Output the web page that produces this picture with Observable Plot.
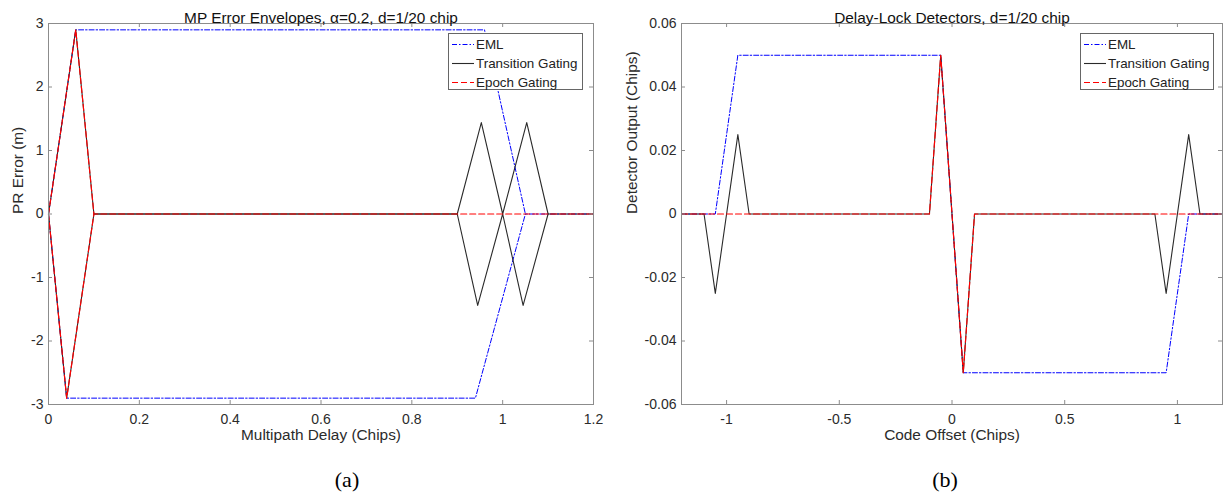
<!DOCTYPE html>
<html>
<head>
<meta charset="utf-8">
<script src="https://cdn.jsdelivr.net/npm/d3@7"></script>
<script src="https://cdn.jsdelivr.net/npm/@observablehq/plot@0.6"></script>
<style>
  html, body { margin: 0; padding: 0; background: #fff; }
  #wrap { position: relative; width: 1227px; height: 499px; overflow: hidden; background: #fff; font-family: "Liberation Sans", Arial, sans-serif; }
  .panel { position: absolute; top: 0; }
  .lgd { position: absolute; }
  .cap { position: absolute; font-family: "Liberation Serif", "Times New Roman", serif; font-size: 22px; color: #000; transform: translate(-50%, -50%); white-space: nowrap; }
</style>
</head>
<body>
<div id="wrap"></div>
<script>
// ---------- Panel (a): MP Error Envelopes ----------
const aTitle = "MP Error Envelopes, α=0.2, d=1/20 chip";
const aXLabel = "Multipath Delay (Chips)";
const aYLabel = "PR Error (m)";
const aXTicks = [0, 0.2, 0.4, 0.6, 0.8, 1, 1.2];
const aYTicks = [-3, -2, -1, 0, 1, 2, 3];

const aEmlUpperDelay = [0, 0.06, 0.96, 1.05, 1.2];
const aEmlUpperErr   = [0, 2.9, 2.9, 0, 0];
const aEmlLowerDelay = [0, 0.04, 0.94, 1.05];
const aEmlLowerErr   = [0, -2.9, -2.9, 0];

const aTransUpperDelay = [0, 0.06, 0.1, 0.9, 0.953, 1.0, 1.053, 1.1, 1.2];
const aTransUpperErr   = [0, 2.9, 0, 0, 1.44, 0, 1.44, 0, 0];
const aTransLowerDelay = [0, 0.04, 0.1, 0.9, 0.945, 1.0, 1.045, 1.1];
const aTransLowerErr   = [0, -2.9, 0, 0, -1.44, 0, -1.44, 0];

const aEpochUpperDelay = [0, 0.06, 0.1, 1.2];
const aEpochUpperErr   = [0, 2.9, 0, 0];
const aEpochLowerDelay = [0, 0.04, 0.1];
const aEpochLowerErr   = [0, -2.9, 0];

// ---------- Panel (b): Delay-Lock Detectors ----------
const bTitle = "Delay-Lock Detectors, d=1/20 chip";
const bXLabel = "Code Offset (Chips)";
const bYLabel = "Detector Output (Chips)";
const bXTicks = [-1, -0.5, 0, 0.5, 1];
const bYTicks = [-0.06, -0.04, -0.02, 0, 0.02, 0.04, 0.06];

const bEmlOffset = [-1.2, -1.05, -0.95, -0.05, 0.05, 0.95, 1.05, 1.2];
const bEmlOut    = [0, 0, 0.05, 0.05, -0.05, -0.05, 0, 0];
const bTransOffset = [-1.2, -1.1, -1.05, -0.95, -0.9, -0.1, -0.05, 0.05, 0.1, 0.9, 0.95, 1.05, 1.1, 1.2];
const bTransOut    = [0, 0, -0.025, 0.025, 0, 0, 0.05, -0.05, 0, 0, -0.025, 0.025, 0, 0];
const bEpochOffset = [-1.2, -0.1, -0.05, 0.05, 0.1, 1.2];
const bEpochOut    = [0, 0, 0.05, -0.05, 0, 0];

const seriesNames = ["EML", "Transition Gating", "Epoch Gating"];
const captions = ["(a)", "(b)"];

// ---------- styles ----------
const lineColors = ["#0000ff", "#2a2a2a", "#ff0000"];
const lineWidths = [1, 1.1, 1.2];
const lineDashes = ["5,2,1.5,2", null, "6,3"];
const FRAME = "#8c8c8c";
const TXT = "#2b2b2b";

function rows(xs, ys, seg) { return xs.map((x, i) => ({x, y: ys[i], seg})); }

function panel({width, height, mL, mR, mT, mB, xDomain, yDomain, xTicks, yTicks, title, xLabel, yLabel, ylDx, series}) {
  const fw = width - mL - mR, fh = height - mT - mB;
  const tk = 4;
  const marks = [];
  series.forEach((s, i) => {
    const data = s.flatMap((p, j) => rows(p[0], p[1], j));
    const opts = {x: "x", y: "y", z: "seg", stroke: lineColors[i], strokeWidth: lineWidths[i], strokeLinejoin: "round"};
    if (lineDashes[i]) opts.strokeDasharray = lineDashes[i];
    marks.push(Plot.line(data, opts));
  });
  marks.push(
    Plot.frame({stroke: FRAME, strokeWidth: 1}),
    Plot.tickX(xTicks, {x: d => d, insetTop: fh - tk, stroke: FRAME}),
    Plot.tickX(xTicks, {x: d => d, insetBottom: fh - tk, stroke: FRAME}),
    Plot.tickY(yTicks, {y: d => d, insetRight: fw - tk, stroke: FRAME}),
    Plot.tickY(yTicks, {y: d => d, insetLeft: fw - tk, stroke: FRAME}),
    Plot.axisX({ticks: xTicks, tickSize: 0, tickPadding: 10, tickFormat: d => String(d), label: null, fill: TXT, fontSize: 14}),
    Plot.axisY({ticks: yTicks, tickSize: 0, tickPadding: 5, tickFormat: d => String(d), label: null, fill: TXT, fontSize: 14}),
    Plot.text([title], {frameAnchor: "top", dy: -11, fontSize: 15.4, fill: "#111"}),
    Plot.text([xLabel], {frameAnchor: "bottom", dy: 35, fontSize: 15.4, fill: TXT}),
    Plot.text([yLabel], {frameAnchor: "left", dx: ylDx, rotate: -90, fontSize: 15.4, fill: TXT})
  );
  return Plot.plot({
    width, height,
    marginLeft: mL, marginRight: mR, marginTop: mT, marginBottom: mB,
    x: {domain: xDomain},
    y: {domain: yDomain},
    style: {fontFamily: "Liberation Sans, Arial, sans-serif", fontSize: "14px", color: TXT, background: "transparent", overflow: "visible"},
    marks
  });
}

const wrap = document.getElementById("wrap");

const svgA = panel({
  width: 613, height: 460, mL: 48, mR: 20, mT: 23, mB: 56,
  xDomain: [0, 1.2], yDomain: [-3, 3], xTicks: aXTicks, yTicks: aYTicks,
  title: aTitle, xLabel: aXLabel, yLabel: aYLabel, ylDx: -30,
  series: [
    [[aEmlUpperDelay, aEmlUpperErr], [aEmlLowerDelay, aEmlLowerErr]],
    [[aTransUpperDelay, aTransUpperErr], [aTransLowerDelay, aTransLowerErr]],
    [[aEpochUpperDelay, aEpochUpperErr], [aEpochLowerDelay, aEpochLowerErr]]
  ]
});
svgA.classList.add("panel");
svgA.style.left = "0px";
wrap.appendChild(svgA);

const svgB = panel({
  width: 614, height: 460, mL: 68, mR: 5, mT: 23, mB: 56,
  xDomain: [-1.2, 1.2], yDomain: [-0.06, 0.06], xTicks: bXTicks, yTicks: bYTicks,
  title: bTitle, xLabel: bXLabel, yLabel: bYLabel, ylDx: -49,
  series: [
    [[bEmlOffset, bEmlOut]],
    [[bTransOffset, bTransOut]],
    [[bEpochOffset, bEpochOut]]
  ]
});
svgB.classList.add("panel");
svgB.style.left = "613px";
wrap.appendChild(svgB);

// ---------- legends (HTML boxes with inline SVG swatches) ----------
function legend(left, top, w, h) {
  const box = document.createElement("div");
  box.className = "lgd";
  box.style.cssText = `left:${left}px;top:${top}px;width:${w - 2}px;height:${h - 2}px;border:1px solid #666;background:#fff;`;
  seriesNames.forEach((name, i) => {
    const row = document.createElement("div");
    row.style.cssText = `position:absolute;left:0;top:${1 + i * 19}px;height:19px;width:${w - 2}px;display:flex;align-items:center;`;
    const dash = lineDashes[i] ? ` stroke-dasharray="${lineDashes[i]}"` : "";
    row.innerHTML = `<svg width="27" height="19" style="flex:none;display:block"><line x1="3" x2="25" y1="9.5" y2="9.5" stroke="${lineColors[i]}" stroke-width="${lineWidths[i]}"${dash}></line></svg>` +
      `<span style="font-family:'Liberation Sans',Arial,sans-serif;font-size:13.4px;color:#222;white-space:nowrap;">${name}</span>`;
    box.appendChild(row);
  });
  wrap.appendChild(box);
}
legend(448, 33, 135, 57);
legend(1080, 33, 134, 57);

// ---------- captions ----------
[[347, 480], [945, 480]].forEach((p, i) => {
  const d = document.createElement("div");
  d.className = "cap";
  d.style.left = p[0] + "px";
  d.style.top = p[1] + "px";
  d.textContent = captions[i];
  wrap.appendChild(d);
});
</script>
</body>
</html>
